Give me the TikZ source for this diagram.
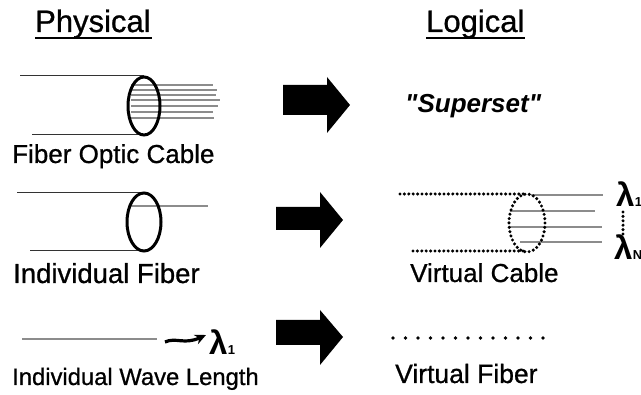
\documentclass[tikz,border=0pt]{standalone}
\usepackage{fontspec}
\setmainfont{Liberation Sans}
\newfontfamily\hv{Liberation Sans}[FakeBold=0.8]
\newfontfamily\hvq{Liberation Sans}
\newfontfamily\hvl{Liberation Sans Bold}
\usetikzlibrary{arrows.meta,calc}
\tikzset{
  lbl/.style={inner sep=0pt, anchor=base west, font=\hv\fontsize{26}{30}\selectfont},
  ttl/.style={inner sep=0pt, anchor=base west, font=\hv\fontsize{31}{36}\selectfont},
  lam/.style={inner sep=0pt, anchor=base west, font=\hvl\fontsize{33}{36}\selectfont},
  sub/.style={inner sep=0pt, anchor=base west, font=\hvl\fontsize{13}{14}\selectfont},
  wall/.style={draw=black!80, line width=1pt},
  ring/.style={draw=black, line width=3pt},
  fib/.style={draw=black!45, line width=1.6pt},
  dotl/.style={draw=black, line width=3.4pt, line cap=round, dash pattern=on 0pt off 4.4pt},
  blk/.style={fill=black},
}
\begin{document}
\begin{tikzpicture}[x=1pt,y=-1pt]
\useasboundingbox (0,0) rectangle (641,395);
% titles
\node[ttl] (phys) at (35,32) {Physical};
\draw[line width=2.2pt] (35,38) -- (152,38);
\node[ttl] (logi) at (426,32) {Logical};
\draw[line width=2.2pt] (426,38) -- (525,38);
% row 1: fiber optic cable
\foreach \y/\e in {85/213,90/217,95/216,100/220,106/218,112/213,118/214}
  \draw[fib] (131,\y) -- (\e,\y);
\draw[wall] (20,76) -- (144,76);
\draw[wall] (32,135) -- (144,135);
\draw[ring] (144,106) ellipse [x radius=16, y radius=29];
\node[lbl] (foc) at (12,163) {Fiber Optic Cable};
% arrow 1
\fill[blk] (283,85) -- (327,85) -- (327,77) -- (350,105) -- (327,133) -- (327,115) -- (283,115) -- cycle;
\node[inner sep=0pt, anchor=base west, font=\hvq\fontsize{26}{30}\selectfont\bfseries\itshape] (sup) at (405,113) {"Superset"};
% row 2: individual fiber
\draw[fib] (131,206) -- (208,206);
\draw[wall] (17,193) -- (144,193);
\draw[wall] (30,251) -- (144,251);
\draw[ring] (144,222) ellipse [x radius=17, y radius=29];
\node[lbl, font=\hv\fontsize{27.5}{30}\selectfont] (indf) at (13,283) {Individual Fiber};
% arrow 2
\fill[blk] (276,207) -- (320,207) -- (320,192) -- (343,220) -- (320,248) -- (320,230) -- (276,230) -- cycle;
% virtual cable
\draw[fib] (531,195) -- (603,195);
\draw[fib] (510,211) -- (595,211);
\draw[fib] (510,227) -- (602,227);
\draw[fib] (520,242) -- (602,242);
\draw[dotl] (400,194) -- (525,194);
\draw[dotl] (413,251) -- (525,251);
\draw[dotl] (527,223) ellipse [x radius=18, y radius=29];
\node[lam] (l1) at (616,207) {λ};
\node[sub] (l1s) at (l1.base east) {1};
\node[lam] (ln) at (614,260) {λ};
\node[sub] (lns) at (ln.base east) {N};
\coordinate (dt) at (623,212);
\coordinate (db) at (623,238);
\draw[dotl] (dt) -- (db);
\node[lbl] (vc) at (410,282) {Virtual Cable};
% row 3: individual wave length
\draw[fib] (22,339) -- (157,339);
\node[lam] (l3) at (209,355) {λ};
\node[sub] (l3s) at (l3.base east) {1};
\coordinate (ws) at (165,342);
\draw[line width=3.2pt, -{Stealth[length=11pt,width=10pt]}] (ws) .. controls (176,337) and (184,345) .. (206,335);
\node[lbl, font=\hv\fontsize{23.8}{28}\selectfont] (iwl) at (12,385) {Individual Wave Length};
% arrow 3
\fill[blk] (276,320) -- (320,320) -- (320,310) -- (343,337) -- (320,365) -- (320,345) -- (276,345) -- cycle;
% virtual fiber
\draw[draw=black, line width=3.6pt, line cap=round, dash pattern=on 0pt off 12.5pt] (393,338) -- (543,338);
\node[lbl, font=\hv\fontsize{26.5}{30}\selectfont] (vf) at (395,383) {Virtual Fiber};
\end{tikzpicture}
\end{document}
